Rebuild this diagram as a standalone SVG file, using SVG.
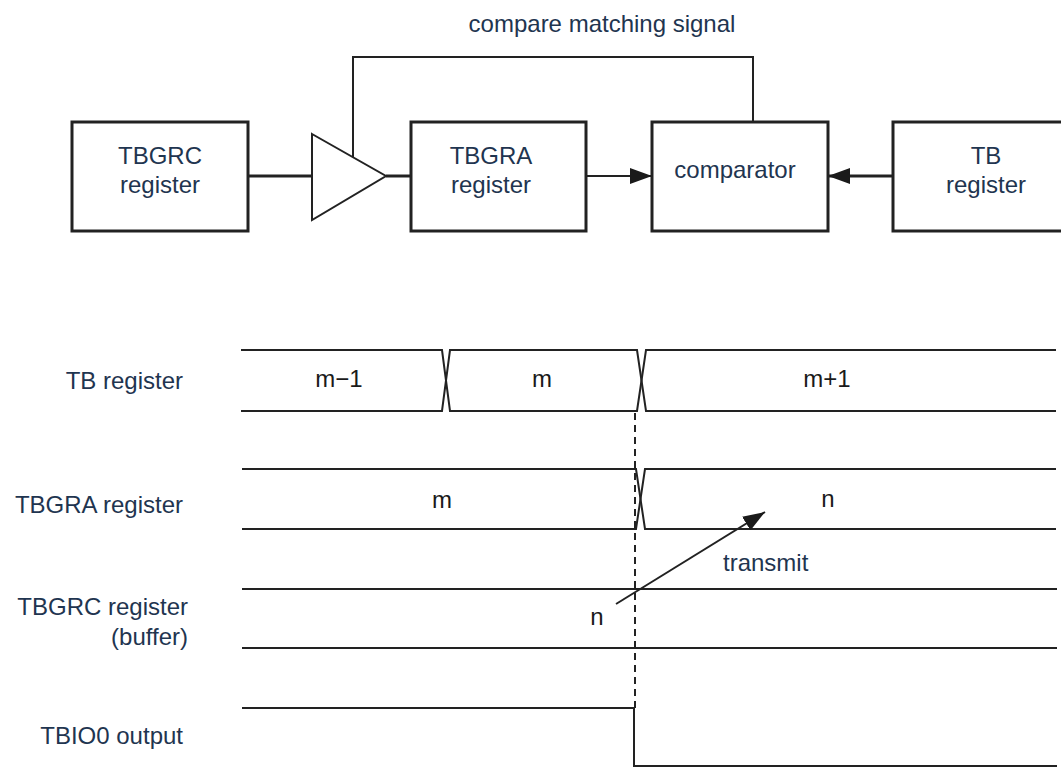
<svg xmlns="http://www.w3.org/2000/svg" width="1061" height="767" viewBox="0 0 1061 767">
<style>
text{font-family:"Liberation Sans",Arial,sans-serif;font-size:24px;fill:#1f3550}
.v{fill:#1a1a1a}
.c{text-anchor:middle}
.r{text-anchor:end}
.box{fill:#fff;stroke:#222;stroke-width:3}
.w{fill:none;stroke:#222;stroke-width:2}
.thick{fill:none;stroke:#222;stroke-width:3}
.dash{fill:none;stroke:#222;stroke-width:2;stroke-dasharray:7 5}
</style>
<defs>
<marker id="ah" viewBox="0 0 22 16" refX="22" refY="8" markerWidth="22" markerHeight="16" markerUnits="userSpaceOnUse" orient="auto">
<path d="M0,0 L22,8 L0,16 Z" fill="#1a1a1a"/>
</marker>
</defs>
<rect width="1061" height="767" fill="#fff"/>
<text class="c" x="602" y="32">compare matching signal</text>
<g id="connectors">
<path class="thick" d="M248,176 H312"/>
<path class="thick" d="M386,176 H411"/>
<path class="w" d="M353,157 V57 H753 V122"/>
<path class="w" d="M586,176 H652" marker-end="url(#ah)"/>
<path class="thick" d="M893,176 H828" marker-end="url(#ah)"/>
</g>
<g id="tbgrc">
<rect class="box" x="72" y="122" width="176" height="109"/>
<text class="c" x="160" y="164">TBGRC</text>
<text class="c" x="160" y="193">register</text>
</g>
<g id="buffer">
<path fill="#fff" stroke="#222" stroke-width="2" d="M312,134 L386,176 L312,220 Z"/>
</g>
<g id="tbgra">
<rect class="box" x="411" y="122" width="175" height="109"/>
<text class="c" x="491" y="164">TBGRA</text>
<text class="c" x="491" y="193">register</text>
</g>
<g id="comparator">
<rect class="box" x="652" y="122" width="176" height="109"/>
<text class="c" x="735" y="178">comparator</text>
</g>
<g id="tb">
<rect class="box" x="893" y="122" width="190" height="109"/>
<text class="c" x="986" y="164">TB</text>
<text class="c" x="986" y="193">register</text>
</g>
<g id="timing">
<text class="r" x="183" y="389">TB register</text>
<text class="r" x="183" y="513">TBGRA register</text>
<text class="r" x="188" y="615">TBGRC register</text>
<text class="r" x="188" y="645">(buffer)</text>
<text class="r" x="183" y="744">TBIO0 output</text>
<path class="w" d="M241,350 H442 L450,411 H637 L646,350 H1056"/>
<path class="w" d="M241,411 H442 L450,350 H637 L646,411 H1056"/>
<text class="c v" x="339" y="387">m−1</text>
<text class="c v" x="542" y="387">m</text>
<text class="c v" x="827" y="387">m+1</text>
<path class="w" d="M242,469 H636 L645,529 H1056"/>
<path class="w" d="M242,529 H636 L645,469 H1056"/>
<text class="c v" x="442" y="508">m</text>
<text class="c v" x="828" y="507">n</text>
<path class="w" d="M242,589 H1057"/>
<path class="w" d="M242,648 H1057"/>
<text class="c v" x="597" y="625">n</text>
<path class="w" d="M242,708 H634 V766 H1057"/>
<path class="dash" d="M635,413 V708"/>
<path class="w" d="M616,604 L765,512" marker-end="url(#ah)"/>
<text x="723" y="571">transmit</text>
</g>
</svg>
